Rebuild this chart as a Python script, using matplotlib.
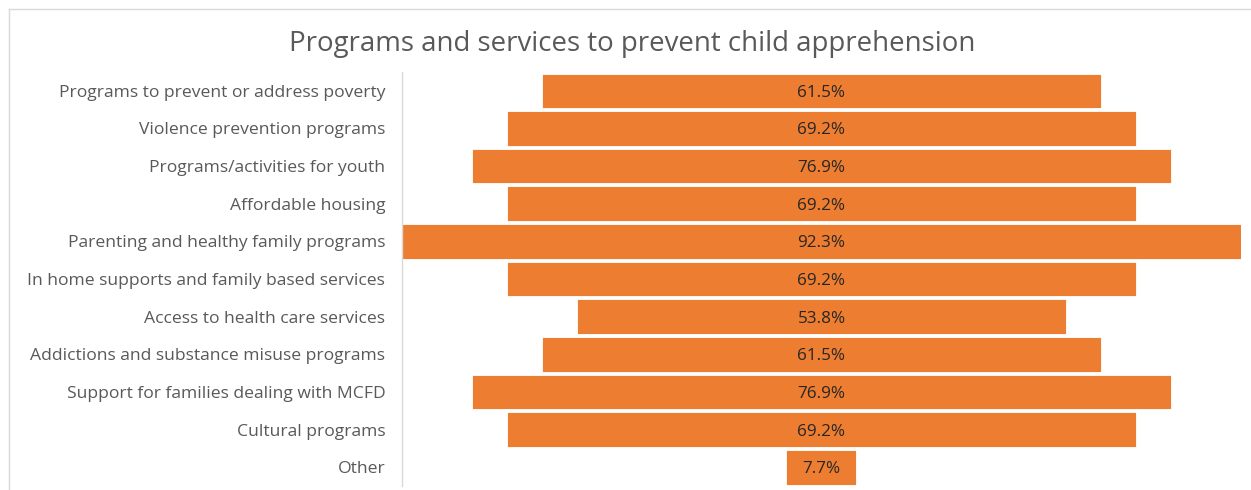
import matplotlib.pyplot as plt
from matplotlib.lines import Line2D

categories = [
    "Programs to prevent or address poverty",
    "Violence prevention programs",
    "Programs/activities for youth",
    "Affordable housing",
    "Parenting and healthy family programs",
    "In home supports and family based services",
    "Access to health care services",
    "Addictions and substance misuse programs",
    "Support for families dealing with MCFD",
    "Cultural programs",
    "Other",
]
values = [61.5, 69.2, 76.9, 69.2, 92.3, 69.2, 53.8, 61.5, 76.9, 69.2, 7.7]
title = "Programs and services to prevent child apprehension"

plt.rcParams['font.family'] = ['Open Sans', 'DejaVu Sans']

fig = plt.figure(figsize=(12.51, 4.90), dpi=100)
ax = fig.add_axes([0.3213, 0.008, 0.992 - 0.3213, 0.845])

n = len(categories)
ys = list(range(n))
lefts = [-v / 2 for v in values]
ax.barh(ys, values, left=lefts, height=0.92, color='#ED7D31', edgecolor='white', linewidth=0.6)
for y, v in zip(ys, values):
    ax.text(0, y, f"{v}%", ha='center', va='center_baseline', fontsize=12.3, color='#262626')

vmax = max(values)
ax.set_xlim(-vmax / 2, vmax / 2)
ax.set_ylim(n - 0.5, -0.5)
ax.set_yticks(ys)
ax.set_yticklabels(categories, fontsize=12.6, color='#595959')
ax.tick_params(axis='y', length=0, pad=12)
ax.set_xticks([])
for s in ['top', 'right', 'bottom']:
    ax.spines[s].set_visible(False)
ax.spines['left'].set_color('#D9D9D9')
ax.spines['left'].set_linewidth(1)

fig.text(0.505, 0.911, title, ha='center', va='center', fontsize=19.9, color='#595959')

# chart border (top and left)
fig.add_artist(Line2D([9 / 1251, 1], [1 - 9 / 490, 1 - 9 / 490], color='#D9D9D9', lw=1))
fig.add_artist(Line2D([9 / 1251, 9 / 1251], [0, 1 - 9 / 490], color='#D9D9D9', lw=1))

fig.savefig('out.png', dpi=100)
